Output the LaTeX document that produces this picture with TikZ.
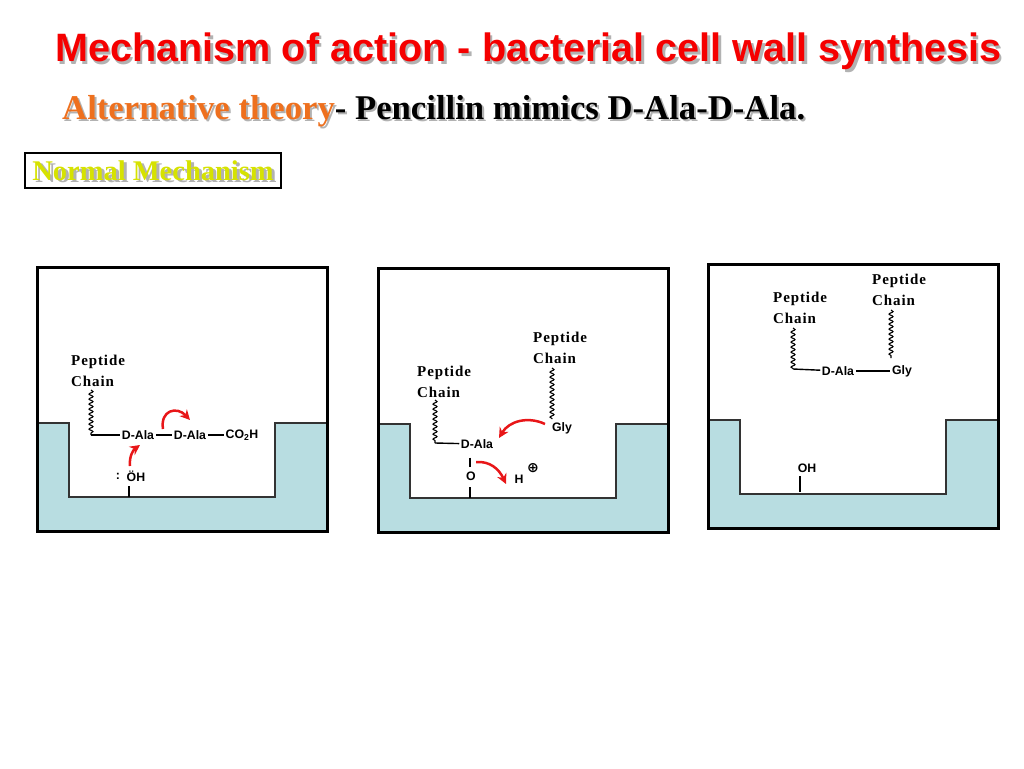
\documentclass[tikz,border=0pt]{standalone}
\usepackage{fontspec}
\setmainfont{Liberation Serif}
\setsansfont{Liberation Sans}
\newfontfamily\signfont{DejaVu Sans}
\usetikzlibrary{arrows.meta,decorations.pathmorphing,positioning}

\def\wellfill{(0,156) -- (32,156) -- (32,230) -- (238,230) -- (238,156) -- (290,156) -- (290,264) -- (0,264) -- cycle}
\def\welledge{(0,156) -- (32,156) -- (32,230) -- (238,230) -- (238,156) -- (290,156)}
\def\panelbox{(0,0) rectangle (290,264)}
\def\titlefont{\fontsize{39.6}{48}\selectfont\sffamily\bfseries}
\def\theoryfont{\fontsize{34.7}{40}\selectfont\bfseries}
\def\boxfont{\fontsize{28.5}{32}\selectfont\bfseries}
\definecolor{well blue}{RGB}{184,221,225}
\definecolor{arrow red}{RGB}{232,22,24}
\definecolor{title red}{RGB}{245,0,0}
\definecolor{theory orange}{RGB}{238,112,30}
\definecolor{normal yellow}{RGB}{214,226,0}
\colorlet{shadow}{black!30}
\tikzset{heading/.style={anchor=base west, inner sep=0pt},
    well/.style={fill=well blue},
    wellline/.style={draw=black!80, line width=1.2pt},
    frame/.style={draw=black, line width=3pt},
    chain/.style={font=\fontsize{15}{20.5}\selectfont\bfseries\addfontfeatures{LetterSpace=6}, align=left, anchor=west, inner sep=0pt},
    res/.style={font=\fontsize{12.3}{14}\selectfont\sffamily\bfseries, inner sep=1.5pt},
    bond/.style={line width=1.4pt},
    wavy/.style={line width=1.1pt, decorate, decoration={snake, segment length=5pt, amplitude=2pt}},
    push/.style={draw=arrow red, line width=2.5pt, -{Stealth[length=10pt,width=10pt]}}}

\begin{document}
\begin{tikzpicture}[x=1pt,y=-1pt]
    \useasboundingbox (0,0) rectangle (1024,768);
    \node[heading, text=shadow, font=\titlefont] (titleshadow) at (57.5,64.5) {Mechanism of action - bacterial cell wall synthesis};
    \node[heading, text=title red, font=\titlefont] (title) at (55,62) {Mechanism of action - bacterial cell wall synthesis};
    \node[heading, text=shadow, font=\theoryfont] (theoryshadow) at (64,121) {Alternative theory- Pencillin mimics D-Ala-D-Ala.};
    \node[heading, font=\theoryfont] (theory) at (62,119) {\textcolor{theory orange}{Alternative theory}- Pencillin mimics D-Ala-D-Ala.};
    \node[text=shadow, font=\boxfont, inner sep=0pt] (normalshadow) at (156,173) {Normal Mechanism};
    \node[draw, line width=2.8pt, minimum width=256pt, minimum height=35pt, text=normal yellow, font=\boxfont] (normal) at (153,170.5) {Normal Mechanism};

    \foreach \x/\y in {37/267, 378/268, 708/264} {
      \begin{scope}[shift={(\x,\y)}]
        \fill[well] \wellfill;
        \draw[wellline] \welledge;
        \draw[frame] \panelbox;
      \end{scope}
    }

    % panel 1
    \node[chain] (pepA) at (71,371) {Peptide\\Chain};
    \coordinate (tailA) at (91,390);
    \coordinate (kinkA) at (91,435);
    \node[res] (alaA) at (138,435) {D-Ala};
    \node[res] (alaB) at (190,435) {D-Ala};
    \node[res] (acid) at (242,435) {CO\textsubscript{2}H};
    \node[res, anchor=base west] (ohA) at (125,481) {\"OH};
    \node[res, anchor=base] (lpA) at (118,479) {:};
    \coordinate (stemA) at (129,486);
    \coordinate (siteA) at (129,497);
    \draw[wavy] (tailA) -- (kinkA);
    \draw[bond] (kinkA) -- (alaA);
    \draw[bond] (alaA) -- (alaB);
    \draw[bond] (alaB) -- (acid);
    \draw[bond] (stemA) -- (siteA);
    \coordinate (pushA) at (163,429);
    \coordinate (pushB) at (190,420);
    \coordinate (pushC) at (130,466);
    \coordinate (pushD) at (140,445);
    \draw[push] (pushA) .. controls (160,410) and (177,406) .. (pushB);
    \draw[push] (pushC) .. controls (129,457) and (133,450) .. (pushD);

    % panel 2
    \node[chain] (pepB) at (417,382) {Peptide\\Chain};
    \node[chain] (pepC) at (533,348) {Peptide\\Chain};
    \coordinate (tailB) at (435,400);
    \coordinate (kinkB) at (435,443);
    \node[res] (alaC) at (477,444) {D-Ala};
    \coordinate (tailC) at (552,368);
    \coordinate (headC) at (552,419);
    \node[res] (glyA) at (562,428) {Gly};
    \node[res] (oxB) at (471,476) {O};
    \coordinate (siteB) at (470,498);
    \node[res] (hB) at (519,479) {H};
    \node[inner sep=0pt, font=\fontsize{14}{14}\selectfont\signfont\bfseries] (plusB) at (533,468) {⊕};
    \draw[wavy] (tailB) -- (kinkB);
    \draw[bond] (kinkB) -- (alaC);
    \draw[wavy] (tailC) -- (headC);
    \draw[bond, shorten <=7.5pt, shorten >=2.5pt] (alaC.south -| siteB) -- (oxB.north -| siteB);
    \draw[bond, shorten <=5pt] (oxB.south -| siteB) -- (siteB);
    \coordinate (pushE) at (545,424);
    \coordinate (pushF) at (499,438);
    \coordinate (pushG) at (476,462);
    \coordinate (pushH) at (506,484);
    \draw[push] (pushE) .. controls (528,416) and (509,421) .. (pushF);
    \draw[push] (pushG) .. controls (490,461) and (499,469) .. (pushH);

    % panel 3
    \node[chain] (pepD) at (773,308) {Peptide\\Chain};
    \node[chain] (pepE) at (872,290) {Peptide\\Chain};
    \coordinate (tailD) at (793,328);
    \coordinate (kinkD) at (793,369);
    \node[res] (alaD) at (838,371) {D-Ala};
    \node[res] (glyB) at (902,371) {Gly};
    \coordinate (tailE) at (891,310);
    \coordinate (headE) at (891,358);
    \node[res] (ohD) at (807,468) {OH};
    \coordinate (siteD) at (800,492);
    \draw[wavy] (tailD) -- (kinkD);
    \draw[bond] (kinkD) -- (alaD);
    \draw[bond] (alaD) -- (glyB);
    \draw[wavy] (tailE) -- (headE);
    \draw[bond, shorten <=2pt] (ohD.south -| siteD) -- (siteD);
  \end{tikzpicture}
\end{document}
